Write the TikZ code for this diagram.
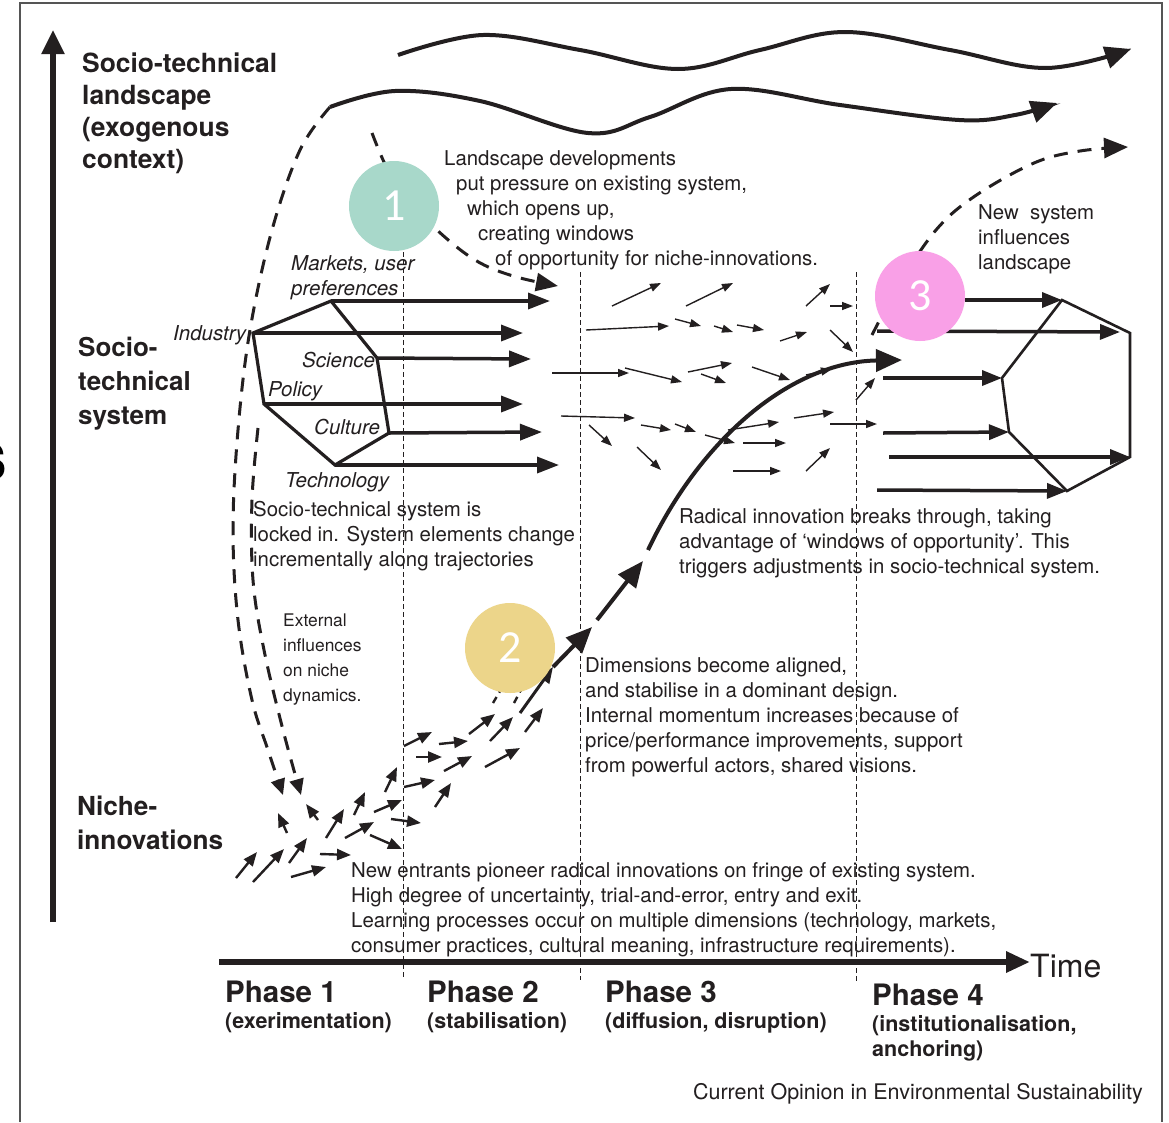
\documentclass[tikz,border=0pt]{standalone}
\usepackage{fontspec}
\setmainfont{TeX Gyre Heros}
\newfontfamily\numfont{Carlito}
\usetikzlibrary{arrows.meta}
\definecolor{ink}{HTML}{231F20}
\definecolor{framegray}{HTML}{555555}
\definecolor{tealc}{HTML}{A8D8CA}
\definecolor{goldc}{HTML}{ECD58A}
\definecolor{pinkc}{HTML}{F9A0E7}
\begin{document}
\begin{tikzpicture}[x=1pt,y=-1pt,
  txt/.style={font=\fontsize{20.4}{25}\selectfont, align=left, anchor=north west, inner sep=0pt, text=ink},
  smalltxt/.style={font=\fontsize{17.4}{25}\selectfont, align=left, anchor=north west, inner sep=0pt, text=ink},
  bigtxt/.style={font=\bfseries\fontsize{26}{32}\selectfont, align=left, anchor=north west, inner sep=0pt, text=ink},
  elemtxt/.style={font=\itshape\fontsize{20.5}{25}\selectfont, align=left, inner sep=0pt, text=ink},
  phasetxt/.style={font=\bfseries\fontsize{29.5}{30}\selectfont, anchor=base west, inner sep=0pt, text=ink},
  phasesub/.style={font=\bfseries\fontsize{21.5}{25}\selectfont, align=left, inner sep=0pt, text=ink},
  framelines/.style={draw=framegray, line width=1.3pt},
  axisarrow/.style={draw=ink, line width=5.5pt, -{Triangle[length=24pt,width=22pt]}},
  wave/.style={draw=ink, line width=4pt, -{Triangle[length=26pt,width=22pt]}},
  dashcurve/.style={draw=ink, line width=3pt, dash pattern=on 14pt off 10pt},
  phaseline/.style={draw=ink, line width=1pt, dash pattern=on 5pt off 3pt},
  hexedge/.style={draw=ink, line width=3.2pt, line join=miter},
  rhexedge/.style={draw=ink, line width=2.6pt, line join=miter},
  harrow/.style={draw=ink, line width=3.5pt, -{Triangle[length=22pt,width=16pt]}},
  rarrow/.style={draw=ink, line width=3.5pt, -{Triangle[length=20pt,width=15pt]}},
  sarrow/.style={draw=ink, line width=1.4pt, -{Triangle[length=11pt,width=8pt]}},
  narrow/.style={draw=ink, line width=2.4pt, -{Triangle[length=14pt,width=11pt]}},
  surge/.style={draw=ink, line width=4pt, -{Triangle[length=26pt,width=22pt]}},
  numcircle/.style={circle, minimum size=90pt, inner sep=0pt, text=white, font=\numfont\fontsize{46}{46}\selectfont},
]
\useasboundingbox (0,0) rectangle (1169,1122);
\fill[white] (0,0) rectangle (1169,1122);

% frame
\coordinate (fbl) at (20,1122);
\coordinate (ftl) at (20,3);
\coordinate (ftr) at (1162,3);
\coordinate (fbr) at (1162,1122);
\draw[framelines] (fbl) -- (ftl) -- (ftr) -- (fbr);

% cut-off letter at left edge
\node[font=\bfseries\fontsize{70}{70}\selectfont, anchor=base west, inner sep=0pt, text=black] (cut) at (-32,480) {s};

% axes
\coordinate (ya0) at (53,922);
\coordinate (ya1) at (53,30);
\draw[axisarrow] (ya0) -- (ya1);
\coordinate (ta0) at (219,962);
\coordinate (ta1) at (1030,962);
\draw[draw=ink, line width=6pt, -{Triangle[length=24pt,width=20pt]}] (ta0) -- (ta1);
\node[font=\fontsize{32}{32}\selectfont, anchor=base west, inner sep=0pt, text=ink] (time) at (1030,977) {Time};

% landscape waves
\draw[wave] plot[smooth, tension=0.6] coordinates {(398,55) (483,35) (580,50) (678,69) (760,50) (845,32) (950,50) (1046,68) (1131,49)};
\draw[wave] plot[smooth, tension=0.6] coordinates {(330,107) (395,91) (480,101) (588,133) (650,117) (731,89) (840,105) (959,120) (1015,115) (1057,103)};

% dashed influence curves
\draw[dashcurve, -{Triangle[length=16pt,width=14pt]}] plot[smooth, tension=0.6] coordinates {(330,107) (300,150) (272,230) (250,330) (238,430) (233,530) (238,620) (252,700) (268,750) (283,795)};
\draw[dashcurve, -{Triangle[length=16pt,width=14pt]}] plot[smooth, tension=0.6] coordinates {(258,428) (252,500) (253,580) (264,650) (283,730) (301,795)};
\draw[dashcurve, -{Triangle[length=22pt,width=18pt]}] plot[smooth, tension=0.6] coordinates {(372,133) (388,170) (410,200) (437,230) (475,260) (513,276) (558,286)};
\draw[dashcurve, -{Triangle[length=24pt,width=20pt]}] plot[smooth, tension=0.6] coordinates {(872,335) (900,283) (936,230) (975,196) (1034,163) (1080,151) (1128,147)};

% phase boundaries
\coordinate (p1a) at (403,252); \coordinate (p1b) at (403,978);
\coordinate (p2a) at (580,272); \coordinate (p2b) at (580,980);
\coordinate (p3a) at (856,272); \coordinate (p3b) at (856,982);
\draw[phaseline] (p1a) -- (p1b);
\draw[phaseline] (p2a) -- (p2b);
\draw[phaseline] (p3a) -- (p3b);

% left socio-technical hexagon
\coordinate (hM) at (331,301);
\coordinate (hI) at (253,333);
\coordinate (hP) at (264,404);
\coordinate (hT) at (335,465);
\coordinate (hC) at (389,433);
\coordinate (hS) at (377,358);
\draw[hexedge] (hM) -- (hI) -- (hP) -- (hT) -- (hC) -- (hS) -- cycle;
\coordinate (eM) at (550,301);
\coordinate (eI) at (523,333);
\coordinate (eS) at (531,359);
\coordinate (eP) at (523,404);
\coordinate (eC) at (542,432);
\coordinate (eT) at (559,465);
\draw[harrow] (hM) -- (eM);
\draw[harrow] (hI) -- (eI);
\draw[harrow] (hS) -- (eS);
\draw[harrow] (hP) -- (eP);
\draw[harrow] (hC) -- (eC);
\draw[harrow] (hT) -- (eT);

% right (new) hexagon
\coordinate (rT) at (1062,300);
\coordinate (rR1) at (1130,333);
\coordinate (rR2) at (1130,457);
\coordinate (rB) at (1067,491);
\coordinate (rL2) at (1009,432);
\coordinate (rL1) at (1002,378);
\draw[rhexedge] (rT) -- (rR1) -- (rR2) -- (rB) -- (rL2) -- (rL1) -- cycle;
\coordinate (sT) at (965,300);
\coordinate (sR1) at (877,331);
\coordinate (sL1) at (883,378);
\coordinate (sL2) at (883,433);
\coordinate (sR2) at (889,457);
\coordinate (sB) at (877,490);
\draw[rarrow] (sT) -- (rT);
\draw[rarrow] (sR1) -- (1120,332);
\draw[rarrow] (sL1) -- (rL1);
\draw[rarrow] (sL2) -- (rL2);
\draw[rarrow] (sR2) -- (rR2);
\draw[rarrow] (sB) -- (rB);

% diffusion arrows (phase 2/3)
\foreach \a/\b/\c/\d in {612/306/661/283, 686/306/733/283, 806/306/830/284, 830/306/853/306,
  586/330/669/326, 675/319/701/326, 714/326/733/332, 737/325/764/330, 780/341/807/332, 830/330/853/352,
  552/373/629/373, 625/368/682/382, 688/372/732/363, 701/374/726/383, 752/367/790/380, 806/375/832/369, 856/400/875/378,
  561/416/635/418, 589/425/612/446, 641/425/671/430, 675/424/696/432, 705/435/735/443, 728/430/779/422,
  794/418/834/412, 830/424/877/424, 637/447/661/470, 743/443/786/443, 733/471/781/471, 806/471/830/448}
  \draw[sarrow] (\a,\b) -- (\c,\d);

% niche arrows
\foreach \a/\b/\c/\d in {236/878/257/852, 253/882/284/849, 289/863/307/838, 291/877/326/867, 320/854/351/855,
  326/838/344/809, 345/838/374/822, 354/815/365/792, 370/835/402/849, 374/812/402/800, 385/792/397/767,
  391/819/421/823, 287/833/278/813, 318/820/306/804, 404/787/435/780, 435/807/451/783, 404/746/432/732,
  416/757/442/757, 439/744/468/741, 444/771/472/756, 469/734/495/714, 485/767/520/748, 490/741/513/717,
  525/732/543/708}
  \draw[narrow] (\a,\b) -- (\c,\d);
\draw[draw=ink, line width=2.4pt, dash pattern=on 7pt off 5pt] (493,703) -- (503,686);
\draw[draw=ink, line width=2.4pt, dash pattern=on 7pt off 5pt] (514,703) -- (522,688);

% radical innovation trajectory
\coordinate (g0) at (520,713);
\coordinate (g1) at (553,667);
\coordinate (g2) at (592,627);
\coordinate (g3) at (597,620);
\coordinate (g4) at (643,561);
\coordinate (g5) at (648,550);
\coordinate (g6) at (902,360);
\draw[draw=ink, line width=3pt, -{Triangle[length=16pt,width=13pt]}] (g0) -- (g1);
\draw[surge] (g1) -- (g2);
\draw[surge] (g3) -- (g4);
\draw[surge] (g5) .. controls (700,440) and (790,362) .. (g6);

% numbered circles
\node[numcircle, fill=tealc] (c1) at (394,206) {1};
\node[numcircle, fill=goldc] (c2) at (510,648) {2};
\node[numcircle, fill=pinkc] (c3) at (920,296) {3};

% level labels
\node[bigtxt, font=\bfseries\fontsize{26.4}{32}\selectfont] (landscape) at (82,53) {Socio-technical\\landscape\\(exogenous\\context)};
\node[bigtxt, font=\bfseries\fontsize{26}{34}\selectfont] (regime) at (78,337) {Socio-\\technical\\system};
\node[bigtxt, font=\bfseries\fontsize{26.2}{34}\selectfont] (niche) at (77,796) {Niche-\\innovations};

% element labels
\node[elemtxt, anchor=north west] (markets) at (291,255) {Markets, user\\preferences};
\node[elemtxt, anchor=base west] (industry) at (173,340) {Industry};
\node[elemtxt, anchor=base west] (science) at (302,367) {Science};
\node[elemtxt, anchor=base west] (policy) at (268,396) {Policy};
\node[elemtxt, anchor=base west] (culture) at (314,434) {Culture};
\node[elemtxt, anchor=base west] (technology) at (285,487) {Technology};

% explanatory texts
\node[txt] (landdev) at (444,150) {Landscape developments\\\hspace*{12pt}put pressure on existing system,\\\hspace*{23pt}which opens up,\\\hspace*{34pt}creating windows\\\hspace*{51pt}of opportunity for niche-innovations.};
\node[txt] (newsys) at (978,204) {New\ \ system\\influences\\landscape};
\node[txt] (locked) at (253,501) {Socio-technical system is\\locked in. System elements change\\incrementally along trajectories};
\node[txt] (radical) at (679,508) {Radical innovation breaks through, taking\\advantage of `windows of opportunity'. This\\triggers adjustments in socio-technical system.};
\node[smalltxt] (external) at (283,614) {External\\influences\\on niche\\dynamics.};
\node[txt] (aligned) at (585,657) {Dimensions become aligned,\\and stabilise in a dominant design.\\Internal momentum increases because of\\price/performance improvements, support\\from powerful actors, shared visions.};
\node[txt] (entrants) at (351,862) {New entrants pioneer radical innovations on fringe of existing system.\\High degree of uncertainty, trial-and-error, entry and exit.\\Learning processes occur on multiple dimensions (technology, markets,\\consumer practices, cultural meaning, infrastructure requirements).};

% phases
\node[phasetxt] (ph1) at (225,1002) {Phase 1};
\node[phasesub, anchor=base west] (ph1s) at (225,1028) {(exerimentation)};
\node[phasetxt] (ph2) at (427,1002) {Phase 2};
\node[phasesub, anchor=base west] (ph2s) at (427,1028) {(stabilisation)};
\node[phasetxt] (ph3) at (605,1002) {Phase 3};
\node[phasesub, anchor=base west] (ph3s) at (605,1028) {(diffusion, disruption)};
\node[phasetxt] (ph4) at (872,1005) {Phase 4};
\node[phasesub, anchor=north west] (ph4s) at (872,1015) {(institutionalisation,\\anchoring)};

\node[font=\fontsize{21.5}{25}\selectfont, anchor=base east, inner sep=0pt, text=ink] (source) at (1143,1099) {Current Opinion in Environmental Sustainability};
\end{tikzpicture}
\end{document}
